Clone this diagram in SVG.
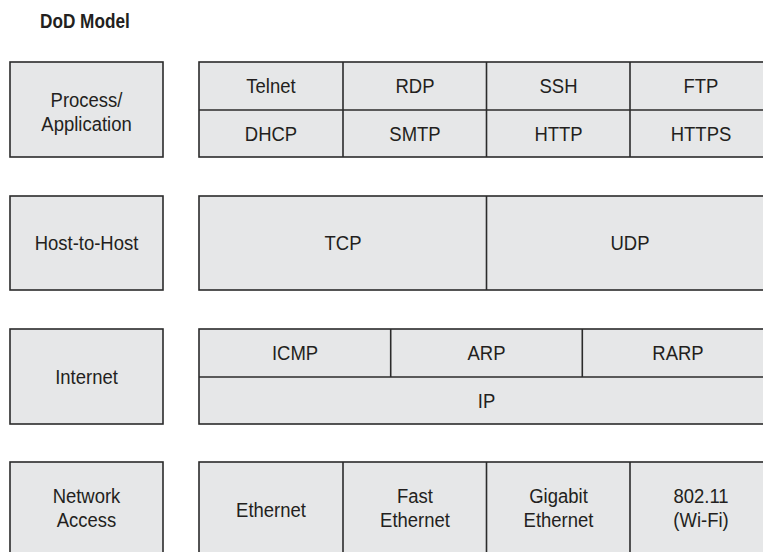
<svg xmlns="http://www.w3.org/2000/svg" width="763" height="552" viewBox="0 0 763 552">
<style>
rect.b{fill:#e6e7e8;stroke:#2b2b2b;stroke-width:1.6}
line{stroke:#2b2b2b;stroke-width:1.6}
text{font-family:"Liberation Sans",Arial,sans-serif;font-size:21px;fill:#231f20;text-anchor:middle}
text.t{font-weight:bold;font-size:20px;text-anchor:start}
</style>
<rect width="763" height="552" fill="#ffffff"/>
<text class="t" transform="translate(40 28) scale(0.86 1)">DoD Model</text>

<g id="process-application">
<rect class="b" x="10" y="62" width="153" height="95"/>
<text transform="translate(86.5 107) scale(0.88 1)">Process/</text>
<text transform="translate(86.5 131) scale(0.88 1)">Application</text>
</g>
<g id="app-protocols">
<rect class="b" x="199" y="62" width="575" height="95"/>
<line x1="199" y1="110" x2="774" y2="110"/>
<line x1="343" y1="62" x2="343" y2="157"/>
<line x1="486.5" y1="62" x2="486.5" y2="157"/>
<line x1="630" y1="62" x2="630" y2="157"/>
<text transform="translate(271 93) scale(0.88 1)">Telnet</text>
<text transform="translate(415 93) scale(0.88 1)">RDP</text>
<text transform="translate(558.5 93) scale(0.88 1)">SSH</text>
<text transform="translate(701 93) scale(0.88 1)">FTP</text>
<text transform="translate(271 141) scale(0.88 1)">DHCP</text>
<text transform="translate(415 141) scale(0.88 1)">SMTP</text>
<text transform="translate(558.5 141) scale(0.88 1)">HTTP</text>
<text transform="translate(701 141) scale(0.88 1)">HTTPS</text>
</g>

<g id="host-to-host">
<rect class="b" x="10" y="196" width="153" height="94"/>
<text transform="translate(86.5 250) scale(0.88 1)">Host-to-Host</text>
</g>
<g id="transport-protocols">
<rect class="b" x="199" y="196" width="575" height="94"/>
<line x1="486.5" y1="196" x2="486.5" y2="290"/>
<text transform="translate(343 250) scale(0.88 1)">TCP</text>
<text transform="translate(630 250) scale(0.88 1)">UDP</text>
</g>

<g id="internet">
<rect class="b" x="10" y="329" width="153" height="95"/>
<text transform="translate(86.5 384) scale(0.88 1)">Internet</text>
</g>
<g id="internet-protocols">
<rect class="b" x="199" y="329" width="575" height="95"/>
<line x1="199" y1="377" x2="774" y2="377"/>
<line x1="390.7" y1="329" x2="390.7" y2="377"/>
<line x1="582.3" y1="329" x2="582.3" y2="377"/>
<text transform="translate(295 360) scale(0.88 1)">ICMP</text>
<text transform="translate(486.5 360) scale(0.88 1)">ARP</text>
<text transform="translate(678 360) scale(0.88 1)">RARP</text>
<text transform="translate(486.5 408) scale(0.88 1)">IP</text>
</g>

<g id="network-access">
<rect class="b" x="10" y="462" width="153" height="100"/>
<text transform="translate(86.5 503) scale(0.88 1)">Network</text>
<text transform="translate(86.5 527) scale(0.88 1)">Access</text>
</g>
<g id="link-protocols">
<rect class="b" x="199" y="462" width="575" height="100"/>
<line x1="343" y1="462" x2="343" y2="562"/>
<line x1="486.5" y1="462" x2="486.5" y2="562"/>
<line x1="630" y1="462" x2="630" y2="562"/>
<text transform="translate(271 517) scale(0.88 1)">Ethernet</text>
<text transform="translate(415 503) scale(0.88 1)">Fast</text>
<text transform="translate(415 527) scale(0.88 1)">Ethernet</text>
<text transform="translate(558.5 503) scale(0.88 1)">Gigabit</text>
<text transform="translate(558.5 527) scale(0.88 1)">Ethernet</text>
<text transform="translate(701 503) scale(0.88 1)">802.11</text>
<text transform="translate(701 527) scale(0.88 1)">(Wi-Fi)</text>
</g>
<g id="connectors"></g>
</svg>
